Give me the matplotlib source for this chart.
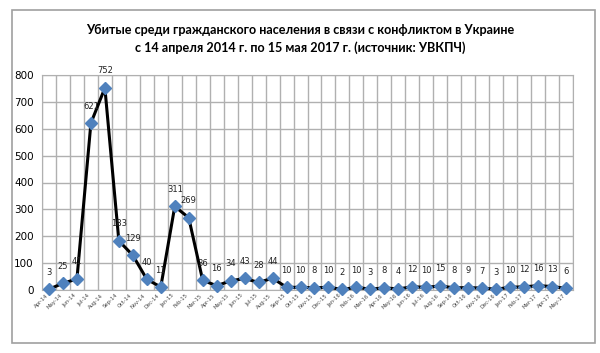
import numpy as np
import matplotlib.pyplot as plt
from matplotlib.patches import Rectangle

months = ['Apr-14', 'May-14', 'Jun-14', 'Jul-14', 'Aug-14', 'Sep-14', 'Oct-14', 'Nov-14', 'Dec-14',
          'Jan-15', 'Feb-15', 'Mar-15', 'Apr-15', 'May-15', 'Jun-15', 'Jul-15', 'Aug-15', 'Sep-15',
          'Oct-15', 'Nov-15', 'Dec-15', 'Jan-16', 'Feb-16', 'Mar-16', 'Apr-16', 'May-16', 'Jun-16',
          'Jul-16', 'Aug-16', 'Sep-16', 'Oct-16', 'Nov-16', 'Dec-16', 'Jan-17', 'Feb-17', 'Mar-17',
          'Apr-17', 'May-17']
killed = [3, 25, 41, 621, 752, 183, 129, 40, 11, 311, 269, 36, 16, 34, 43, 28, 44, 10,
          10, 8, 10, 2, 10, 3, 8, 4, 12, 10, 15, 8, 9, 7, 3, 10, 12, 16, 13, 6]

title = ('Убитые среди гражданского населения в связи с конфликтом в Украине\n'
         'с 14 апреля 2014 г. по 15 мая 2017 г. (источник: УВКПЧ)')

fig = plt.figure(figsize=(6, 3.53), dpi=100)
fig.patches.append(Rectangle((12/600, 10/353), 583/600, 333/353, transform=fig.transFigure,
                             fill=False, edgecolor='#a0a0a0', linewidth=1.2))

ax = fig.add_axes([42/600, 1 - 290/353, 531/600, 215/353])
x = np.arange(len(months))
ax.plot(x, killed, color='black', linewidth=2.2, marker='D', markersize=6.5,
        markerfacecolor='#4F81BD', markeredgecolor='#4F81BD', zorder=3, clip_on=False)

for xi, v in zip(x, killed):
    ax.annotate(str(v), (xi, v), xytext=(0, 9), textcoords='offset points',
                ha='center', va='bottom', fontsize=6, color='#222222')

ax.set_xlim(-0.5, len(months) - 0.5)
ax.set_ylim(0, 800)
ax.set_yticks(range(0, 801, 100))
ax.set_xticks(x)
ax.set_xticklabels(months, rotation=45, ha='right', fontsize=3.8, color='#444444')
ax.set_xticks(np.arange(-0.5, len(months)), minor=True)
ax.tick_params(axis='x', which='both', length=0, pad=2)
ax.tick_params(axis='y', length=0, labelsize=7.5, pad=6)
ax.grid(axis='y', color='#b0b0b0', linewidth=1)
ax.grid(axis='x', which='minor', color='#b0b0b0', linewidth=1)
for s in ax.spines.values():
    s.set_color('#b0b0b0')
ax.set_axisbelow(True)

fig.text(0.5, 1 - 39/353, title, ha='center', va='center', fontsize=9.1, fontweight='bold',
         family='Lato', linespacing=1.5)

fig.savefig('out.png', dpi=100)
